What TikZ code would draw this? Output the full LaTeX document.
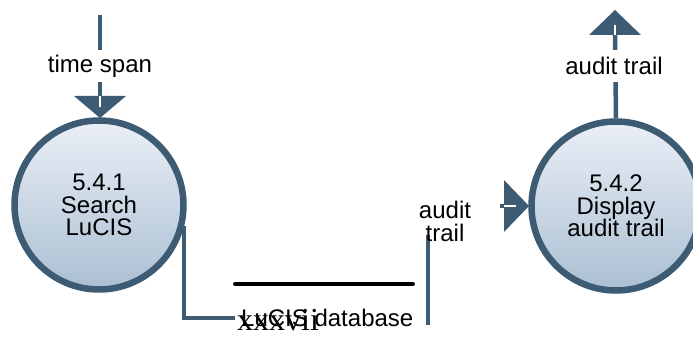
\documentclass[tikz,border=0pt]{standalone}
\usepackage{fontspec}
\setmainfont{Liberation Sans}
\newfontfamily\pagenumfont{Liberation Serif}
\begin{document}
\begin{tikzpicture}[x=1pt,y=-1pt]
\definecolor{dfd}{HTML}{3E5B74}
\definecolor{ftop}{HTML}{EBEFF7}
\definecolor{fbot}{HTML}{AABFD2}
\tikzset{
  proc/.style={circle, draw=dfd, line width=6.5pt, minimum size=169pt, inner sep=0pt,
    top color=ftop, bottom color=fbot, align=center,
    font=\fontsize{24}{22.5}\selectfont},
  flow/.style={draw=dfd, line width=4.5pt},
  lbl/.style={font=\fontsize{24}{23}\selectfont, align=center, inner sep=0pt},
  gaplbl/.style={lbl, fill=white, minimum height=32pt},
  headwhite/.style={draw=white, line width=1.6pt},
  storeline/.style={draw=black, line width=4pt, line cap=round},
}
\useasboundingbox (0,0) rectangle (693,350);

% processes
\node[proc] (p1) at (99,205) {5.4.1\\Search\\LuCIS};
\node[proc] (p2) at (616,206) {5.4.2\\Display\\audit trail};

% time span flow into 5.4.1
\coordinate (ts0) at (100,15);
\coordinate (tsb) at (100,96);
\coordinate (tst) at (100,118);
\draw[flow] (ts0) -- (tsb);
\node[gaplbl] (tsl) at (100,66) {time span};
\fill[dfd] (tst) -- ++(-26,-22) -- ++(52,0) -- cycle;
\draw[headwhite] (tsb) -- ++(0,11);

% audit trail out of 5.4.2
\coordinate (atb) at (615,35);
\coordinate (att) at (615,10);
\draw[flow] (p2.north) -- (atb);
\node[gaplbl] (atl) at (614,66) {audit trail};
\fill[dfd] (att) -- ++(-26,25) -- ++(52,0) -- cycle;
\draw[headwhite] (atb) -- ++(0,-10);

% data store
\coordinate (st1) at (235,284);
\coordinate (st2) at (413,284);
\draw[storeline] (st1) -- (st2);
\node[lbl, anchor=base west] (stl) at (241,326) {LuCIS database};

% flow from 5.4.1 to store
\coordinate (s1) at (235,318);
\draw[flow] (p1.-14) |- (s1);

% flow from store to 5.4.2
\coordinate (r0) at (428,325);
\coordinate (r1) at (428,235);
\draw[draw=dfd, line width=4pt] (r0) -- (r1);
\node[lbl] (al) at (445,221) {audit\\trail};
\coordinate (lst) at (500,206);
\coordinate (lb) at (504,206);
\coordinate (lt) at (529,206);
\draw[flow] (lst) -- (lb);
\fill[dfd] (lt) -- ++(-25,-26) -- ++(0,52) -- cycle;
\draw[headwhite] (lb) -- ++(12,0);

% page number artefact
\node[inner sep=0pt, anchor=base west, font=\pagenumfont\fontsize{32}{32}\selectfont] (pg) at (237,330) {xxxvii};
\end{tikzpicture}
\end{document}
